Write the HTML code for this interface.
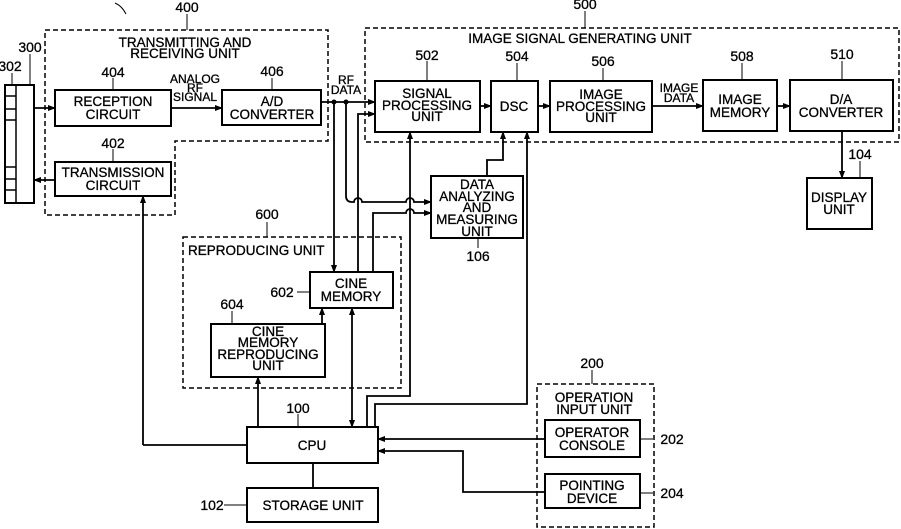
<!DOCTYPE html>
<html><head><meta charset="utf-8"><style>
html,body{margin:0;padding:0;background:#fff;}
svg{display:block;}
text{font-family:"Liberation Sans",sans-serif;font-size:14px;fill:#000;stroke:#000;stroke-width:0.3;text-anchor:middle;}
.s{font-size:13.5px;}
</style></head><body>
<svg width="901" height="529" viewBox="0 0 901 529" xmlns="http://www.w3.org/2000/svg">
<defs>
<marker id="a" markerWidth="8" markerHeight="6" refX="7" refY="3" orient="auto" markerUnits="userSpaceOnUse"><path d="M0,0 L8,3 L0,6 z" fill="#000"/></marker>
<marker id="b" markerWidth="8" markerHeight="6" refX="1" refY="3" orient="auto" markerUnits="userSpaceOnUse"><path d="M8,0 L0,3 L8,6 z" fill="#000"/></marker>
</defs>
<g fill="none" stroke="#000" stroke-width="2">
<path d="M45,30 H328 V141 H175 V215 H45 Z" stroke-dasharray="5,3" stroke-width="1.5"/>
<rect x="365" y="28" width="534" height="114" stroke-dasharray="5,3" stroke-width="1.5"/>
<rect x="183" y="237" width="218" height="151" stroke-dasharray="5,3" stroke-width="1.5"/>
<rect x="537" y="384" width="117" height="143" stroke-dasharray="5,3" stroke-width="1.5"/>
<rect x="5" y="85" width="29" height="118"/>
<path d="M16,85 V203 M5,96 H16 M5,109 H16 M5,120 H16 M5,167 H16 M5,179 H16 M5,190 H16" stroke-width="1.5"/>
<rect x="55" y="90" width="116" height="36"/>
<rect x="222" y="90" width="99" height="35"/>
<rect x="55" y="162" width="116" height="34"/>
<rect x="375" y="81" width="105" height="51"/>
<rect x="491" y="81" width="47" height="51"/>
<rect x="550" y="81" width="102" height="51"/>
<rect x="703" y="80" width="74" height="51"/>
<rect x="790" y="80" width="103" height="51"/>
<rect x="807" y="178" width="65" height="51"/>
<rect x="431" y="176" width="92" height="62"/>
<rect x="310" y="272" width="83" height="36"/>
<rect x="211" y="324" width="114" height="53"/>
<rect x="247" y="427" width="131" height="36"/>
<rect x="247" y="488" width="131" height="34"/>
<rect x="545" y="420" width="95" height="37"/>
<rect x="545" y="474" width="95" height="34"/>
</g>
<g fill="none" stroke="#000" stroke-width="1.8">
<path d="M34,108 H55" marker-end="url(#a)"/>
<path d="M55,180 H34" marker-end="url(#a)"/>
<path d="M171,108 H222" marker-end="url(#a)"/>
<path d="M321,102 H375" marker-end="url(#a)"/>
<path d="M143,445 H247 M143,445 V196" marker-end="url(#a)"/>
<path d="M334,102 V272" marker-end="url(#a)"/>
<path d="M346,102 V196 Q346,202 352,202 H354 A4,4 0 0 1 362,202 H406 A4,4 0 0 1 414,202 H431" marker-end="url(#a)"/>
<path d="M358,272 V114 H375" marker-end="url(#a)"/>
<path d="M373,272 V213 H406 A4,4 0 0 1 414,213 H431" marker-end="url(#a)"/>
<path d="M480,106 H491" marker-end="url(#a)"/>
<path d="M538,106 H550" marker-end="url(#a)"/>
<path d="M652,106 H703" marker-end="url(#a)"/>
<path d="M777,106 H790" marker-end="url(#a)"/>
<path d="M842,131 V178" marker-end="url(#a)"/>
<path d="M487,176 V160 H503 V132" marker-end="url(#a)"/>
<path d="M367,427 V396 H410 V132" marker-end="url(#a)"/>
<path d="M375,427 V404 H527 V132" marker-end="url(#a)"/>
<path d="M258,427 V377" marker-end="url(#a)"/>
<path d="M322,324 V308" marker-end="url(#a)"/>
<path d="M352,427 V308" marker-end="url(#a)" marker-start="url(#b)"/>
<path d="M313,463 V488"/>
<path d="M545,439 H378" marker-end="url(#a)"/>
<path d="M545,492 H463 V451 H378" marker-end="url(#a)"/>
</g>
<g fill="#000"><circle cx="334" cy="102" r="2.5"/><circle cx="346" cy="102" r="2.5"/></g>
<g fill="none" stroke="#000" stroke-width="1">
<path d="M115,3 Q122,6 126,14"/>
<path d="M187,14 V30"/><path d="M113,78 V90"/><path d="M272,78 V90"/><path d="M113,149 V162"/>
<path d="M12,73 V85"/><path d="M30,54 V85"/>
<path d="M427,61 V81"/><path d="M517,63 V81"/><path d="M603,68 V81"/><path d="M742,63 V80"/><path d="M842,61 V80"/>
<path d="M585,11 V28"/><path d="M860,161 V178"/><path d="M478,238 V248"/>
<path d="M267,222 V237"/><path d="M297,292 H310"/><path d="M232,311 V324"/>
<path d="M298,414 V427"/><path d="M224,505 H247"/><path d="M592,370 V384"/>
<path d="M640,439 H653"/><path d="M640,493 H653"/>
</g>
<text x="187" y="12">400</text>
<text x="185" y="47" class="s">TRANSMITTING AND</text>
<text x="185" y="58" class="s">RECEIVING UNIT</text>
<text x="30" y="52">300</text>
<text x="10" y="71">302</text>
<text x="113" y="77">404</text>
<text x="272" y="76">406</text>
<text x="113" y="148">402</text>
<text x="113" y="106" class="s">RECEPTION</text>
<text x="113" y="119" class="s">CIRCUIT</text>
<text x="272" y="106" class="s">A/D</text>
<text x="272" y="119" class="s">CONVERTER</text>
<text x="113" y="177" class="s">TRANSMISSION</text>
<text x="113" y="190" class="s">CIRCUIT</text>
<text x="195" y="83" style="font-size:12px">ANALOG</text>
<text x="195" y="92" style="font-size:12px">RF</text>
<text x="195" y="101" style="font-size:12px">SIGNAL</text>
<text x="346" y="84" style="font-size:12px">RF</text>
<text x="346" y="94" style="font-size:12px">DATA</text>
<text x="585" y="9">500</text>
<text x="580" y="43" class="s">IMAGE SIGNAL GENERATING UNIT</text>
<text x="427" y="60">502</text>
<text x="517" y="61">504</text>
<text x="603" y="66">506</text>
<text x="742" y="61">508</text>
<text x="842" y="59">510</text>
<text x="427" y="98" class="s">SIGNAL</text>
<text x="427" y="110" class="s">PROCESSING</text>
<text x="427" y="121" class="s">UNIT</text>
<text x="514" y="111" class="s">DSC</text>
<text x="601" y="99" class="s">IMAGE</text>
<text x="601" y="111" class="s">PROCESSING</text>
<text x="601" y="122" class="s">UNIT</text>
<text x="679" y="92" style="font-size:12px">IMAGE</text>
<text x="679" y="102" style="font-size:12px">DATA</text>
<text x="740" y="104" class="s">IMAGE</text>
<text x="740" y="117" class="s">MEMORY</text>
<text x="841" y="104" class="s">D/A</text>
<text x="841" y="117" class="s">CONVERTER</text>
<text x="860" y="159">104</text>
<text x="839" y="202" class="s">DISPLAY</text>
<text x="839" y="214" class="s">UNIT</text>
<text x="477" y="189" class="s">DATA</text>
<text x="477" y="201" class="s">ANALYZING</text>
<text x="477" y="212" class="s">AND</text>
<text x="477" y="224" class="s">MEASURING</text>
<text x="477" y="236" class="s">UNIT</text>
<text x="478" y="261">106</text>
<text x="267" y="219">600</text>
<text x="188" y="255" class="s" style="text-anchor:start">REPRODUCING UNIT</text>
<text x="351" y="288" class="s">CINE</text>
<text x="351" y="301" class="s">MEMORY</text>
<text x="282" y="297">602</text>
<text x="232" y="309">604</text>
<text x="268" y="336" class="s">CINE</text>
<text x="268" y="347" class="s">MEMORY</text>
<text x="268" y="359" class="s">REPRODUCING</text>
<text x="268" y="370" class="s">UNIT</text>
<text x="298" y="413">100</text>
<text x="312" y="450" class="s">CPU</text>
<text x="212" y="510">102</text>
<text x="313" y="510" class="s">STORAGE UNIT</text>
<text x="592" y="368">200</text>
<text x="594" y="402" class="s">OPERATION</text>
<text x="594" y="414" class="s">INPUT UNIT</text>
<text x="592" y="437" class="s">OPERATOR</text>
<text x="592" y="450" class="s">CONSOLE</text>
<text x="592" y="490" class="s">POINTING</text>
<text x="592" y="503" class="s">DEVICE</text>
<text x="672" y="444">202</text>
<text x="672" y="498">204</text>
</svg>
</body></html>
